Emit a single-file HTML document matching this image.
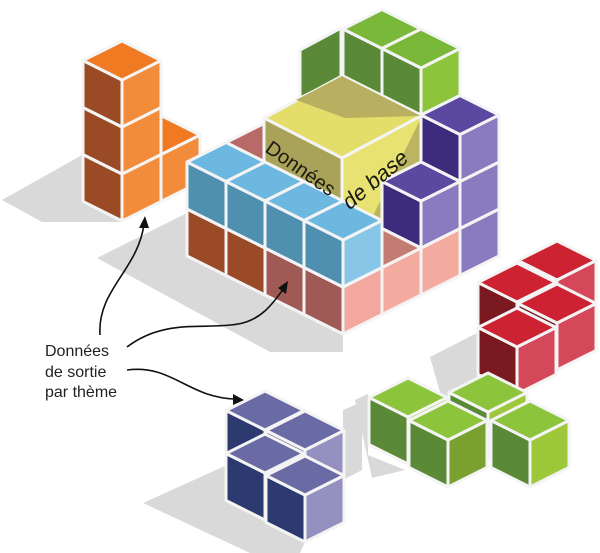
<!DOCTYPE html>
<html><head><meta charset="utf-8"><style>
html,body{margin:0;padding:0;background:#fff;}
svg{display:block;}
</style></head><body>
<svg id="s" width="600" height="553" viewBox="0 0 600 553" xmlns="http://www.w3.org/2000/svg">
<g fill="#d9d9d9">
<polygon points="2,200 82,155 82,202 122,222 42,222"/>
<polygon points="97,258 187,213 187,256 343,334 343,352 270,352"/>
<polygon points="143,503 227,465 227,500 305,542 300,553 250,553"/>
<polygon points="343,410 362,402 362,470 343,480"/>
<polygon points="430,357 477,333 477,400 445,410"/>
<polygon points="355,400 368,394 368,455 405,470 372,478"/>
</g>
<g id="cubes" stroke="#f4f4f4" stroke-width="3" stroke-linejoin="round"></g>
<g fill="none" stroke="#111" stroke-width="1.6">
<path d="M100,335 C97,290 138,270 144,224"/>
<path d="M127,347 C165,318 205,330 238,324 C262,320 274,302 284,288"/>
<path d="M127,370 C172,364 188,398 236,399"/>
</g>
<g fill="#111">
<polygon points="145,216 139,228 149,228"/>
<polygon points="288,281 278,288 286,294"/>
<polygon points="244,400 233,394 233,405"/>
</g>
<text x="45" y="356" font-family="Liberation Sans, sans-serif" font-size="16" fill="#222">Données</text>
<text x="45" y="377" font-family="Liberation Sans, sans-serif" font-size="16" fill="#222">de sortie</text>
<text x="45" y="397" font-family="Liberation Sans, sans-serif" font-size="16" fill="#222">par thème</text>
<text transform="translate(264,151) rotate(35)" font-family="Liberation Sans, sans-serif" font-size="20" fill="#1a1a10">Données</text>
<text transform="translate(349,211) rotate(-40) skewX(-10)" font-family="Liberation Sans, sans-serif" font-size="22" fill="#1a1a10">de base</text>
</svg>
<script>
var g=document.getElementById('cubes');var NS='http://www.w3.org/2000/svg';
function poly(pts,fill){var p=document.createElementNS(NS,'polygon');p.setAttribute('points',pts.map(function(a){return a[0]+','+a[1]}).join(' '));p.setAttribute('fill',fill);g.appendChild(p);return p;}
var W=39,H=19.5,V=47;
function cube(F,c,only){var x=F[0],y=F[1];
 if(!only||only.indexOf('l')>=0)poly([[x,y],[x-W,y-H],[x-W,y-H+V],[x,y+V]],c[0]);
 if(!only||only.indexOf('r')>=0)poly([[x,y],[x+W,y-H],[x+W,y-H+V],[x,y+V]],c[1]);
 if(!only||only.indexOf('t')>=0)poly([[x,y],[x-W,y-H],[x,y-2*H],[x+W,y-H]],c[2]);}
function G(x,y,z){return [343+(x-y)*W,334-(x+y)*H-(z+1)*V];}
var OR=['#9a4a24','#f28c3a','#f07a22'];
var ROSE=['#a05a56','#f2a89e','#b86a68'];
var BROWN=['#9a4a26','#f2a89e','#b05a30'];
var PINK=['#a05a56','#f4ab9f','#c47b74'];
var PUR=['#3d2c7c','#8a7abf','#5b48a0'];
var BLUE=['#4f8fb0','#88c6e8','#6db8e0'];
var GR=['#5a8a38','#8cc43c','#7ab83a'];
cube([161,154.5],OR);
for(var z=0;z<3;z++)cube([122,221-(z+1)*V],OR);
cube(G(1,3,0),ROSE);cube(G(1,3,1),ROSE);
poly([[300,50],[341,28],[341,78],[300,98]],'#5a8a38');
cube(G(3,2,3),GR);cube(G(3,1,3),GR);
poly([[342,158],[264,118],[342,76],[421,116]],'#e4dd6a');
poly([[342,158],[264,118],[264,215],[342,255]],'#a9a35a');
poly([[342,158],[421,116],[421,215],[342,255]],'#e8e272');
var sh=poly([[296,100],[342,76],[421,116],[345,118]],'#b8b060');sh.setAttribute('stroke','none');
var sh2=poly([[421,118],[421,215],[368,226]],'#bdb462');sh2.setAttribute('stroke','none');
var list=[[0,3,0,BROWN],[0,2,0,BROWN],[0,1,0,ROSE],[0,0,0,ROSE],[1,0,0,PINK],[2,0,0,PINK],
[3,0,0,PUR],[3,0,1,PUR],[3,0,2,PUR],[2,0,1,PUR],[0,3,1,BLUE],[0,2,1,BLUE],[0,1,1,BLUE],[0,0,1,BLUE]];
list.sort(function(a,b){var d=(b[0]+b[1])-(a[0]+a[1]);return d!==0?d:a[2]-b[2];});
list.forEach(function(c){cube(G(c[0],c[1],c[2]),c[3]);});
var RED=['#7a1a20','#d4485a','#cc2232'];
cube([557,280],RED);cube([517,302],RED);cube([557,323],RED);cube([517,347],RED);
var GB=['#5a8a38','#9cc83a','#8cc43c'];
cube([488,412],GB);cube([408,417],GB);cube([448,440],['#5a8a38','#7aa030','#8cc43c']);cube([530,440],GB);
var NV=['#2c3a70','#9490c0','#6a6aa4'];
cube([265,430],NV);cube([305,450],NV);cube([265,473],NV);cube([305,495],NV);
</script>
</body></html>
